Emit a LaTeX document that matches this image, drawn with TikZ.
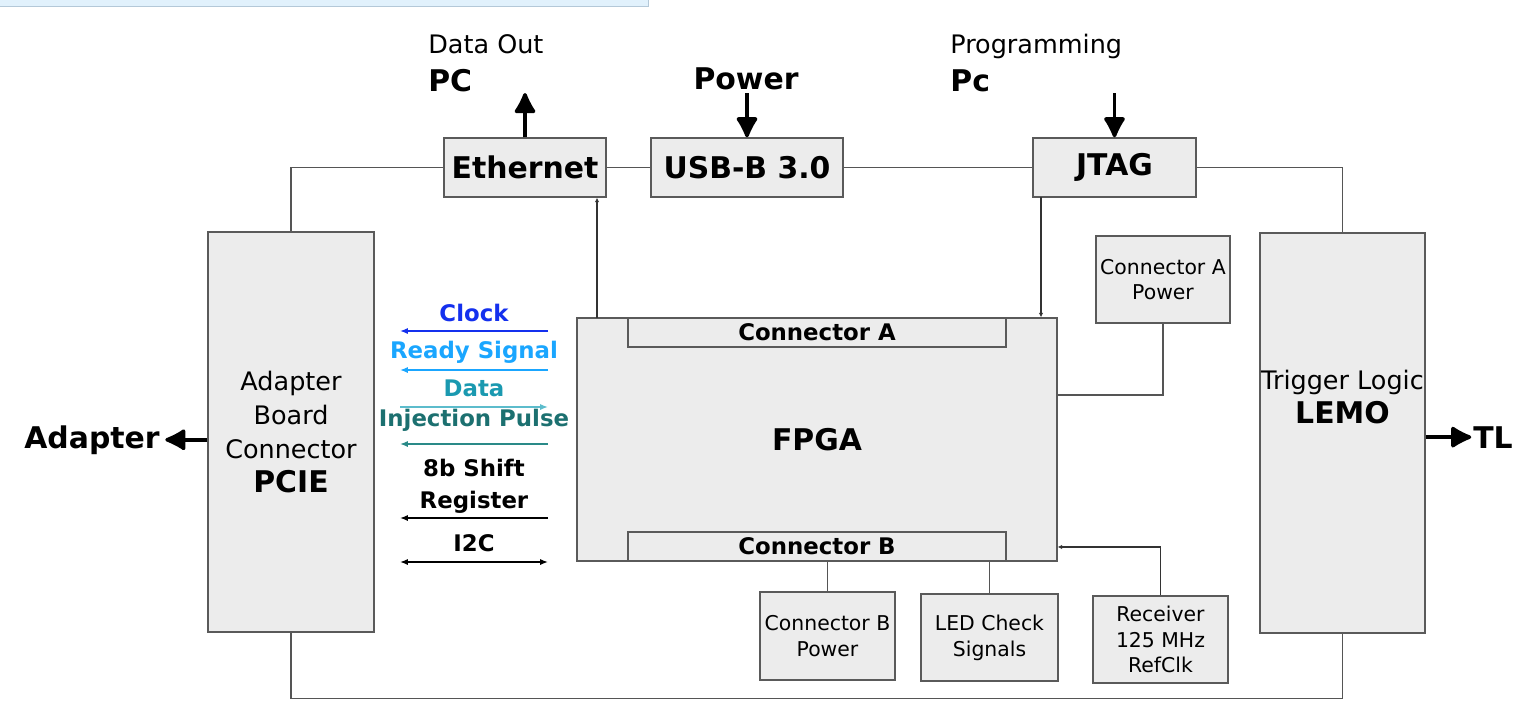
\documentclass[tikz,border=0pt]{standalone}
\usepackage{fontspec}
\setmainfont{DejaVu Sans}
\usepackage{tikz}
\usetikzlibrary{arrows.meta,positioning,calc}
\definecolor{boxfill}{HTML}{ECECEC}
\definecolor{boxline}{HTML}{5A5A5A}
\definecolor{wirecol}{HTML}{555555}
\definecolor{clockcol}{HTML}{1430EE}
\definecolor{readycol}{HTML}{1AA6FF}
\definecolor{datacol}{HTML}{1A99B0}
\definecolor{dataarrow}{HTML}{5CBCCC}
\definecolor{injcol}{HTML}{1C7070}
\definecolor{injarrow}{HTML}{2A8A88}
\definecolor{barfill}{HTML}{E1F1FC}
\definecolor{barline}{HTML}{B4C8D8}

\begin{document}
\begin{tikzpicture}[
  x=0.02cm, y=-0.02cm, >=Latex,
  box/.style={draw=boxline, fill=boxfill, line width=0.8pt, inner sep=0pt, align=center},
  bigtxt/.style={font=\fontsize{17}{20}\selectfont\bfseries},
  midtxt/.style={font=\fontsize{14.5}{19.5}\selectfont},
  sigtxt/.style={font=\fontsize{13}{18}\selectfont\bfseries, align=center, inner sep=0pt},
  smalltxt/.style={font=\fontsize{11.6}{14.7}\selectfont},
  wire/.style={draw=wirecol, line width=0.8pt},
  fat/.style={line width=2pt, -{Latex[length=13.5pt,width=14pt,round]}},
  sig/.style={line width=0.8pt, -{Latex[length=4.5pt,width=3.5pt]}},
  tiny/.style={line width=0.6pt, draw=black!80, -{Latex[length=2.5pt,width=2.5pt]}}
]
\useasboundingbox (0,0) rectangle (1515,701);
\draw[fill=barfill, draw=barline] (-2,-2) rectangle (648,6);

% interfaces on top
\node[box, bigtxt, minimum width=3.24cm, minimum height=1.18cm] (eth) at (525,167.5) {Ethernet};
\node[box, bigtxt, minimum width=3.84cm, minimum height=1.18cm] (usb) at (747,167.5) {USB-B 3.0};
\node[box, bigtxt, minimum width=3.26cm, minimum height=1.18cm] (jtag) at (1114.5,167.5) {JTAG};

% side connectors
\node[box, midtxt, minimum width=3.32cm, minimum height=8cm] (pcie) at (291,432)
  {Adapter\\Board\\Connector\\{\fontsize{17}{20}\selectfont\bfseries PCIE}};
\node[box, minimum width=3.3cm, minimum height=8cm] (lemo) at (1342.5,433) {};
\node[midtxt, align=center, inner sep=0pt] (lemotxt) at (1342.5,397)
  {Trigger Logic\\{\fontsize{17}{20}\selectfont\bfseries LEMO}};

% fpga and its connectors
\node[box, bigtxt, minimum width=9.6cm, minimum height=4.86cm] (fpga) at (817,439.5) {FPGA};
\node[box, sigtxt, minimum width=7.56cm, minimum height=0.58cm] (cona) at (817,332.5) {Connector A};
\node[box, sigtxt, minimum width=7.56cm, minimum height=0.58cm] (conb) at (817,546.5) {Connector B};

\node[box, smalltxt, minimum width=2.68cm, minimum height=1.74cm] (capow) at (1163,279.5) {Connector A\\Power};
\node[box, smalltxt, minimum width=2.7cm, minimum height=1.76cm] (cbpow) at (827.5,636) {Connector B\\Power};
\node[box, smalltxt, minimum width=2.74cm, minimum height=1.74cm] (led) at (989.5,637.5) {LED Check\\Signals};
\node[box, smalltxt, minimum width=2.7cm, minimum height=1.74cm] (recv) at (1160.5,639.5) {Receiver\\125 MHz\\RefClk};

% outside labels
\node[midtxt, anchor=base west, inner sep=0pt] (dataout) at (428,53) {Data Out};
\node[bigtxt, anchor=base west, inner sep=0pt] (pc) at (428,91) {PC};
\node[bigtxt, anchor=base, inner sep=0pt] (pwr) at (746,89) {Power};
\node[midtxt, anchor=base west, inner sep=0pt] (prog) at (950,53) {Programming};
\node[bigtxt, anchor=base west, inner sep=0pt] (pcprog) at (950,91) {Pc};
\node[bigtxt, anchor=base east, inner sep=0pt] (adapter) at (160,448) {Adapter};
\node[bigtxt, anchor=base west, inner sep=0pt] (tl) at (1473,448) {TL};

% board frame
\draw[wire] (pcie.north) |- (eth.west);
\draw[wire] (eth.east) -- (usb.west);
\draw[wire] (usb.east) -- (jtag.west);
\draw[wire] (jtag.east) -| (lemo.north);
\draw[wire] (pcie.south) -- ++(0,66) -| (lemo.south);

% external arrows
\coordinate (pcout) at (525,93);
\coordinate (pwrin) at (747,93);
\coordinate (jtagin) at (1114.5,93);
\draw[fat] (eth.north) -- (pcout);
\draw[fat] (pwrin) -- (usb.north);
\draw[fat] (jtagin) -- (jtag.north);
\draw[fat] (pcie.west |- adapter.east) -- ([xshift=3pt]adapter.east);
\draw[fat] (lemo.east |- tl.west) -- ([xshift=-1pt]tl.west);

% internal links
\coordinate (ethin) at (597,318);
\coordinate (jtagout) at (1041,197);
\draw[tiny] (ethin) -- (ethin |- eth.south);
\draw[tiny] (jtagout) -- (jtagout |- fpga.north);
\draw[wire] (capow.south) |- ([yshift=0.89cm]fpga.east);
\draw[tiny] (recv.north) |- ([yshift=-2.15cm]fpga.east);
\draw[wire] (conb.south -| cbpow.north) -- (cbpow.north);
\draw[wire] (conb.south -| led.north) -- (led.north);

% signals between pcie and fpga
\foreach \n/\y in {clk/331, rdy/370, dat/407, inj/444, shr/518, iic/562} {
  \coordinate (\n L) at (400,\y);
  \coordinate (\n R) at (548,\y);
}
\node[sigtxt, text=clockcol] (clk) at (474,313) {Clock};
\node[sigtxt, text=readycol] (rdy) at (474,352) {Ready Signal};
\node[sigtxt, text=datacol] (dat) at (474,388) {Data};
\node[sigtxt, text=injcol] (inj) at (474,420) {Injection Pulse};
\node[sigtxt] (shr) at (474,486) {8b Shift\\Register};
\node[sigtxt] (iic) at (474,543) {I2C};
\draw[sig, clockcol] (clkR) -- (clkL);
\draw[sig, readycol] (rdyR) -- (rdyL);
\draw[sig, dataarrow] (datL) -- (datR);
\draw[sig, injarrow] (injR) -- (injL);
\draw[sig] (shrR) -- (shrL);
\draw[sig, {Latex[length=4.5pt,width=3.5pt]}-{Latex[length=4.5pt,width=3.5pt]}] (iicL) -- (iicR);
\end{tikzpicture}
\end{document}
